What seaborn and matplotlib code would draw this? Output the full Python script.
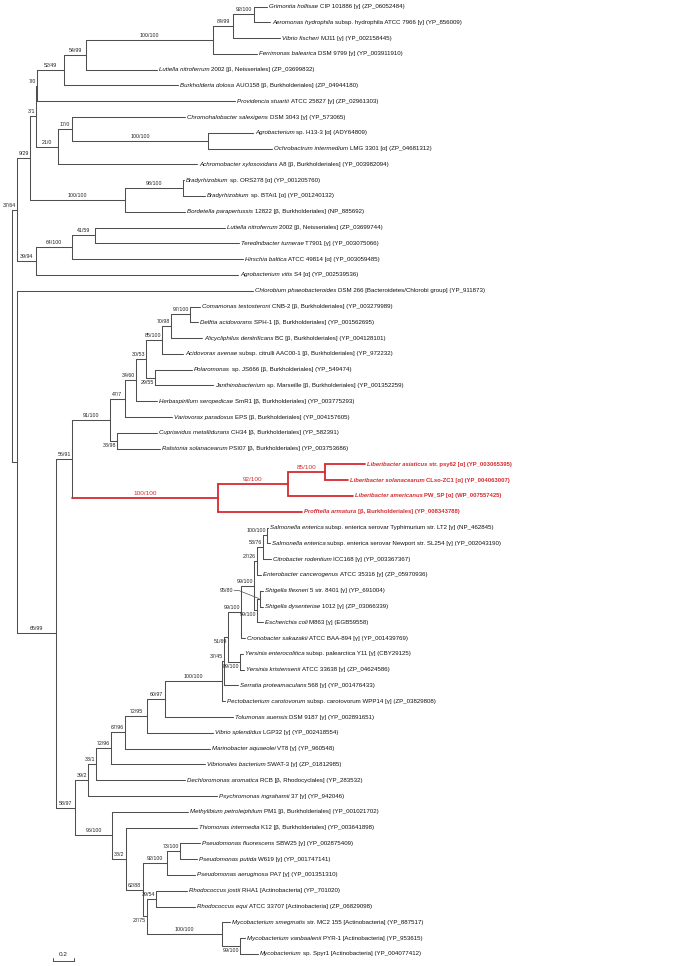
import numpy as np
import pandas as pd
import matplotlib
matplotlib.use('Agg')
import matplotlib.pyplot as plt
import seaborn as sns

# ---- leaves (top to bottom): italic name, rest of label, parent node, branch length
leaf_italic = [
    'Grimontia hollisae', 'Aeromonas hydrophila', 'Vibrio fischeri', 'Ferrimonas balearica',
    'Lutiella nitroferrum', 'Burkholderia dolosa', 'Providencia stuartii', 'Chromohalobacter salexigens',
    'Agrobacterium', 'Ochrobactrum intermedium', 'Achromobacter xylosoxidans', 'Bradyrhizobium',
    'Bradyrhizobium', 'Bordetella parapertussis', 'Lutiella nitroferrum', 'Teredinibacter turnerae',
    'Hirschia baltica', 'Agrobacterium vitis', 'Chlorobium phaeobacteroides', 'Comamonas testosteroni',
    'Delftia acidovorans', 'Alicycliphilus denitrificans', 'Acidovorax avenae', 'Polaromonas',
    'Janthinobacterium', 'Herbaspirillum seropedicae', 'Variovorax paradoxus', 'Cupriavidus metallidurans',
    'Ralstonia solanacearum', 'Liberibacter asiaticus', 'Liberibacter solanacearum', 'Liberibacter americanus',
    'Profftella armatura', 'Salmonella enterica', 'Salmonella enterica', 'Citrobacter rodentium',
    'Enterobacter cancerogenus', 'Shigella flexneri', 'Shigella dysenteriae', 'Escherichia coli',
    'Cronobacter sakazakii', 'Yersinia enterocolitica', 'Yersinia kristensenii', 'Serratia proteamaculans',
    'Pectobacterium carotovorum', 'Tolumonas auensis', 'Vibrio splendidus', 'Marinobacter aquaeolei',
    'Vibrionales bacterium', 'Dechloromonas aromatica', 'Psychromonas ingrahamii', 'Methylibium petroleiphilum',
    'Thiomonas intermedia', 'Pseudomonas fluorescens', 'Pseudomonas putida', 'Pseudomonas aeruginosa',
    'Rhodococcus jostii', 'Rhodococcus equi', 'Mycobacterium smegmatis', 'Mycobacterium vanbaalenii',
    'Mycobacterium',
]
leaf_rest = [
    'CIP 101886 [γ] (ZP_06052484)', 'subsp. hydrophila ATCC 7966 [γ] (YP_856009)',
    'MJ11 [γ] (YP_002158445)', 'DSM 9799 [γ] (YP_003911910)',
    '2002 [β, Neisseriales] (ZP_03699832)', 'AUO158 [β, Burkholderiales] (ZP_04944180)',
    'ATCC 25827 [γ] (ZP_02961303)', 'DSM 3043 [γ] (YP_573065)',
    'sp. H13-3 [α] (ADY64809)', 'LMG 3301 [α] (ZP_04681312)',
    'A8 [β, Burkholderiales] (YP_003982094)', 'sp. ORS278 [α] (YP_001205760)',
    'sp. BTAi1 [α] (YP_001240132)', '12822 [β, Burkholderiales] (NP_885692)',
    '2002 [β, Neisseriales] (ZP_03699744)', 'T7901 [γ] (YP_003075066)',
    'ATCC 49814 [α] (YP_003059485)', 'S4 [α] (YP_002539536)',
    'DSM 266 [Bacteroidetes/Chlorobi group] (YP_911873)', 'CNB-2 [β, Burkholderiales] (YP_003279989)',
    'SPH-1 [β, Burkholderiales] (YP_001562695)', 'BC [β, Burkholderiales] (YP_004128101)',
    'subsp. citrulli AAC00-1 [β, Burkholderiales] (YP_972232)', 'sp. JS666 [β, Burkholderiales] (YP_549474)',
    'sp. Marseille [β, Burkholderiales] (YP_001352259)', 'SmR1 [β, Burkholderiales] (YP_003775293)',
    'EPS [β, Burkholderiales] (YP_004157605)', 'CH34 [β, Burkholderiales] (YP_582391)',
    'PSI07 [β, Burkholderiales] (YP_003753686)', 'str. psy62 [α] (YP_003065395)',
    'CLso-ZC1 [α] (YP_004063007)', 'PW_SP [α] (WP_007557425)',
    '[β, Burkholderiales] (YP_008343788)',
    'subsp. enterica serovar Typhimurium str. LT2 [γ] (NP_462845)',
    'subsp. enterica serovar Newport str. SL254 [γ] (YP_002043190)',
    'ICC168 [γ] (YP_003367367)', 'ATCC 35316 [γ] (ZP_05970936)',
    '5 str. 8401 [γ] (YP_691004)', '1012 [γ] (ZP_03066339)',
    'M863 [γ] (EGB59558)', 'ATCC BAA-894 [γ] (YP_001439769)',
    'subsp. palearctica Y11 [γ] (CBY29125)', 'ATCC 33638 [γ] (ZP_04624586)',
    '568 [γ] (YP_001476433)', 'subsp. carotovorum WPP14 [γ] (ZP_03829808)',
    'DSM 9187 [γ] (YP_002891651)', 'LGP32 [γ] (YP_002418554)',
    'VT8 [γ] (YP_960548)', 'SWAT-3 [γ] (ZP_01812985)',
    'RCB [β, Rhodocyclales] (YP_283532)', '37 [γ] (YP_942046)',
    'PM1 [β, Burkholderiales] (YP_001021702)', 'K12 [β, Burkholderiales] (YP_003641898)',
    'SBW25 [γ] (YP_002875409)', 'W619 [γ] (YP_001747141)',
    'PA7 [γ] (YP_001351310)', 'RHA1 [Actinobacteria] (YP_701020)',
    'ATCC 33707 [Actinobacteria] (ZP_06829098)', 'str. MC2 155 [Actinobacteria] (YP_887517)',
    'PYR-1 [Actinobacteria] (YP_953615)', 'sp. Spyr1 [Actinobacteria] (YP_004077412)',
]
leaf_parent = [
    'n92a', 'n92a', 'n84_99', 'n100a', 'n54_99', 'n52_49', 'n7_0', 'n17_0', 'n100b', 'n100b',
    'n21_0', 'n98_100', 'n98_100', 'n100c', 'n41_59', 'n41_59', 'n64_100', 'n39_94', 'nx',
    'n97_100', 'n97_100', 'n70_98', 'n85_100', 'n29_55', 'n29_55', 'n34_60', 'n47_7', 'n38_98',
    'n38_98', 'las85', 'las85', 'las92', 'las100', 'n100s', 'n100s', 'n53_76', 'n27_26',
    'n95_80', 'n95_80', 'n99c', 'n99a', 'n89_100', 'n89_100', 'n37_45', 'n100d', 'n60_97',
    'n72_95', 'n67_96', 'n72_96', 'n33_1', 'n39_2', 'n96_100', 'n38_2', 'n73_100', 'n73_100',
    'n92p', 'n39_54', 'n39_54', 'n100m', 'n99m', 'n99m',
]
leaf_len = [
    0.124, 0.152, 0.448, 0.419, 0.676, 1.086, 1.886, 1.076, 0.429, 0.610,
    1.324, 0.010, 0.210, 0.571, 1.238, 1.371, 1.629, 1.924, 2.248,
    0.095, 0.076, 0.295, 0.200, 0.352, 0.552, 0.200, 0.448, 0.381,
    0.410, 0.381, 0.219, 0.619, 0.800, 0.010, 0.029, 0.076, 0.038,
    0.029, 0.029, 0.057, 0.038, 0.029, 0.038, 0.133, 0.029, 0.648,
    0.629, 0.810, 0.895, 0.848, 1.229, 0.724, 0.676, 0.190, 0.162,
    0.267, 0.295, 0.371, 0.076, 0.048, 0.171,
]
red_leaves = [29, 30, 31, 32]

# ---- internal nodes (parents listed before children)
node_id = [
    'root', 'n37_64', 'n9_29', 'n3_1', 'n7_0', 'n52_49', 'n54_99', 'n100a', 'n84_99', 'n92a',
    'n21_0', 'n17_0', 'n100b', 'n100c', 'n98_100', 'n39_94', 'n64_100', 'n41_59',
    'nx', 'n65_99', 'n56_91', 'n91_100', 'n47_7', 'n34_60', 'n30_53', 'n85_100', 'n70_98',
    'n97_100', 'n29_55', 'n38_98', 'las100', 'las92', 'las85',
    'n58_97', 'n39_2', 'n33_1', 'n72_96', 'n67_96', 'n72_95', 'n60_97', 'n100d', 'n37_45',
    'n51_69', 'n99a', 'n99b', 'n27_26', 'n53_76', 'n100s', 'n99c', 'n95_80', 'n89_100',
    'n96_100', 'n38_2', 'n62_88', 'n92p', 'n73_100', 'n27_75', 'n39_54', 'n100m', 'n99m',
]
node_parent = [
    None, 'root', 'n37_64', 'n9_29', 'n3_1', 'n7_0', 'n52_49', 'n54_99', 'n100a', 'n84_99',
    'n3_1', 'n21_0', 'n17_0', 'n9_29', 'n100c', 'n37_64', 'n39_94', 'n64_100',
    'root', 'nx', 'n65_99', 'n56_91', 'n91_100', 'n47_7', 'n34_60', 'n30_53', 'n85_100',
    'n70_98', 'n30_53', 'n91_100', 'n56_91', 'las100', 'las92',
    'n65_99', 'n58_97', 'n39_2', 'n33_1', 'n72_96', 'n67_96', 'n72_95', 'n60_97', 'n100d',
    'n37_45', 'n51_69', 'n99a', 'n99b', 'n27_26', 'n53_76', 'n99b', 'n99c', 'n51_69',
    'n58_97', 'n96_100', 'n38_2', 'n62_88', 'n92p', 'n62_88', 'n27_75', 'n27_75', 'n100m',
]
node_support = [
    '', '37/64', '9/29', '3/1', '7/0', '52/49', '54/99', '100/100', '84/99', '92/100',
    '21/0', '17/0', '100/100', '100/100', '98/100', '39/94', '64/100', '41/59',
    '', '65/99', '56/91', '91/100', '47/7', '34/60', '30/53', '85/100', '70/98',
    '97/100', '29/55', '38/98', '100/100', '92/100', '85/100',
    '58/97', '39/2', '33/1', '72/96', '67/96', '72/95', '60/97', '100/100', '37/45',
    '51/69', '99/100', '99/100', '27/26', '53/76', '100/100', '99/100', '95/80', '89/100',
    '96/100', '38/2', '62/88', '92/100', '73/100', '27/75', '39/54', '100/100', '99/100',
]
node_len = [
    0.0, 0.048, 0.124, 0.057, 0.010, 0.257, 0.210, 1.210, 0.190, 0.200,
    0.210, 0.133, 1.295, 0.905, 0.552, 0.181, 0.343, 0.219,
    0.048, 0.371, 0.152, 0.362, 0.143, 0.105, 0.095, 0.152, 0.086,
    0.181, 0.086, 0.067, 1.390, 0.667, 0.352,
    0.181, 0.124, 0.076, 0.143, 0.133, 0.210, 0.171, 0.543, 0.019,
    0.038, 0.124, 0.124, 0.029, 0.057, 0.038, 0.029, 0.029, 0.114,
    0.352, 0.133, 0.162, 0.229, 0.124, 0.038, 0.086, 0.714, 0.171,
]
red_nodes = ['las100', 'las92', 'las85']
labels_below = ['n29_55', 'n38_98', 'n99c', 'n89_100', 'n27_75', 'n99m', 'n51_69']

GREY = '#4f4f4f'
RED = '#d42a2f'

# ---- layout of the tree
parent = dict(zip(node_id, node_parent))
blen = dict(zip(node_id, node_len))
xpos, ypos = {}, {}
for nid in node_id:
    xpos[nid] = 0.0 if parent[nid] is None else xpos[parent[nid]] + blen[nid]

children = {nid: [] for nid in node_id}
for i, p in enumerate(leaf_parent):
    leaf = 'leaf%d' % i
    children[p].append(leaf)
    xpos[leaf] = xpos[p] + leaf_len[i]
    ypos[leaf] = float(i)
    parent[leaf] = p
for nid in node_id:
    if parent[nid] is not None:
        children[parent[nid]].append(nid)
for nid in reversed(node_id):
    ys = [ypos[c] for c in children[nid]]
    ypos[nid] = (min(ys) + max(ys)) / 2

red_set = set(red_nodes) | {'leaf%d' % i for i in red_leaves}
rows = []
seg = 0
for nid in list(node_id) + ['leaf%d' % i for i in range(len(leaf_italic))]:
    clade = 'red' if nid in red_set else 'grey'
    if parent[nid] is not None:
        rows += [(seg, xpos[parent[nid]], ypos[nid], clade), (seg, xpos[nid], ypos[nid], clade)]
        seg += 1
    if nid in children:
        ys = [ypos[c] for c in children[nid]]
        rows += [(seg, xpos[nid], min(ys), clade), (seg, xpos[nid], max(ys), clade)]
        seg += 1
segs = pd.DataFrame(rows, columns=['seg', 'x', 'y', 'clade'])

# ---- figure
sns.set_theme(style='white')
plt.rcParams['font.family'] = ['Liberation Sans', 'DejaVu Sans']

W, H = 685, 966
PX = 105.0    # pixels per unit of branch length
ROW = 15.79   # pixels per leaf row
X0, Y0 = 12.0, 6.5

fig = plt.figure(figsize=(W / 100, H / 100), dpi=100)
ax = fig.add_axes([0, 0, 1, 1])

sns.lineplot(data=segs[segs.clade == 'grey'], x='x', y='y', units='seg', estimator=None,
             sort=False, color=GREY, linewidth=0.75, ax=ax, legend=False)
sns.lineplot(data=segs[segs.clade == 'red'], x='x', y='y', units='seg', estimator=None,
             sort=False, color=RED, linewidth=1.3, ax=ax, legend=False)
ax.set_xlim(-X0 / PX, (W - X0) / PX)
ax.set_ylim((H - Y0) / ROW, -Y0 / ROW)
ax.axis('off')

renderer = fig.canvas.get_renderer()
LEAF_FS = 4.4
SUP_FS = 3.8

# leaf labels: italic name followed by the rest
for i in range(len(leaf_italic)):
    leaf = 'leaf%d' % i
    red = i in red_leaves
    col = RED if red else '#111111'
    wt = 'bold' if red else 'normal'
    fs = 4.25 if red else LEAF_FS
    x = xpos[leaf] + 2 / PX
    t = ax.text(x, ypos[leaf], leaf_italic[i], style='italic', fontweight=wt, color=col,
                fontsize=fs, ha='left', va='center')
    w = t.get_window_extent(renderer).width / PX
    ax.text(x + w + 1.6 / PX, ypos[leaf], leaf_rest[i], fontweight=wt, color=col,
            fontsize=fs, ha='left', va='center')

# support values
for nid, sup in zip(node_id, node_support):
    if not sup:
        continue
    red = nid in red_nodes
    col = RED if red else '#222222'
    fs = 4.6 if red else SUP_FS
    x, y = xpos[nid], ypos[nid]
    xp = xpos[parent[nid]]
    if nid == 'n95_80':
        ax.text(x - 27 / PX, y - 8 / ROW, sup, fontsize=fs, color=col, ha='right', va='center')
        ax.plot([x - 26 / PX, x - 21 / PX, x - 1 / PX], [y - 8 / ROW, y - 8 / ROW, y],
                color=GREY, lw=0.5)
        continue
    below = nid in labels_below
    t = ax.text(0, 0, sup, fontsize=fs, color=col,
                va='top' if below else 'bottom')
    w = t.get_window_extent(renderer).width / PX
    if (x - xp) >= w + 3 / PX:
        t.set_position(((x + xp) / 2, y))
        t.set_ha('center')
    else:
        t.set_position((x - 1 / PX, y))
        t.set_ha('right')
    t.set_y(y + 2 / ROW if below else y - 2 / ROW)

# scale bar
sb_x = (53 - X0) / PX
sb_y = (961 - Y0) / ROW
ax.plot([sb_x, sb_x + 0.2], [sb_y, sb_y], color=GREY, lw=0.7)
for xx in (sb_x, sb_x + 0.2):
    ax.plot([xx, xx], [sb_y, sb_y - 3 / ROW], color=GREY, lw=0.7)
ax.text(sb_x + 0.1, sb_y - 4 / ROW, '0.2', fontsize=4.6, ha='center', va='bottom', color='#222222')

fig.savefig('out.png', dpi=100)
